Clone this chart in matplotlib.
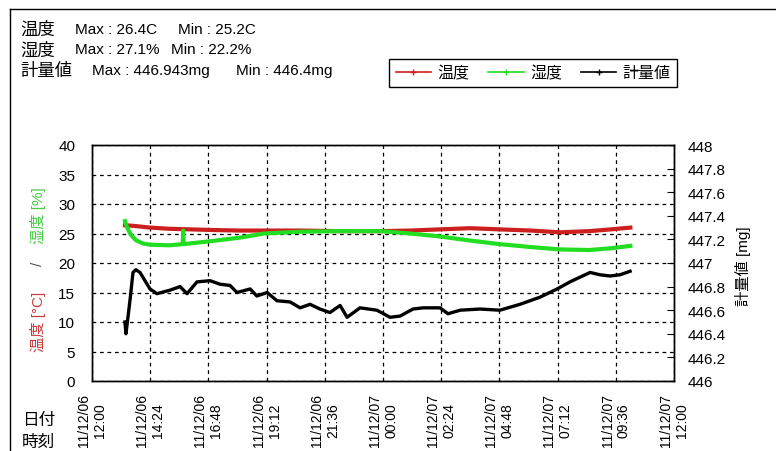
import matplotlib
matplotlib.use("Agg")
import matplotlib.pyplot as plt
from matplotlib.lines import Line2D
import numpy as np

plt.rcParams['font.family'] = ['Liberation Sans', 'Noto Sans CJK JP', 'DejaVu Sans']

# x軸: 11/12/06 12:00 からの経過時間 [h]
tick_labels = ["11/12/06\n12:00", "11/12/06\n14:24", "11/12/06\n16:48", "11/12/06\n19:12",
               "11/12/06\n21:36", "11/12/07\n00:00", "11/12/07\n02:24", "11/12/07\n04:48",
               "11/12/07\n07:12", "11/12/07\n09:36", "11/12/07\n12:00"]

# 温度 [C]
temp_h = [1.36, 1.7, 2.4, 3.2, 4.9, 6.1, 7.1, 8.6, 10.2, 11.9, 13.1, 14.35, 15.6,
          16.8, 18.1, 19.3, 20.5, 21.4, 22.2]
temp_v = [26.4, 26.3, 26.0, 25.8, 25.6, 25.5, 25.5, 25.5, 25.4, 25.4, 25.5, 25.7, 25.9,
          25.7, 25.5, 25.2, 25.4, 25.7, 26.0]

# 湿度 [%]
hum_h = [1.36, 1.45, 1.6, 1.8, 2.1, 2.4, 3.2, 3.74, 3.76, 3.78, 4.9, 6.1, 7.1, 8.6,
         10.2, 11.9, 13.1, 14.35, 15.6, 16.8, 18.1, 19.3, 20.5, 21.4, 22.2]
hum_v = [27.1, 26.0, 24.8, 23.9, 23.3, 23.1, 23.0, 23.2, 25.5, 23.2, 23.7, 24.3, 25.0, 25.3,
         25.4, 25.4, 25.0, 24.5, 23.8, 23.2, 22.7, 22.3, 22.2, 22.5, 22.9]

# 計量値 [mg]
wt_h = [1.36, 1.40, 1.57, 1.69, 1.81, 1.98, 2.39, 2.68, 3.22, 3.63, 3.92, 4.33, 4.87,
        5.28, 5.69, 5.98, 6.52, 6.80, 7.22, 7.63, 8.17, 8.58, 8.99, 9.40, 9.81, 10.23,
        10.52, 11.05, 11.75, 12.29, 12.70, 13.24, 13.65, 14.35, 14.68, 15.18, 16.0,
        16.82, 17.65, 18.47, 19.18, 19.71, 20.54, 20.95, 21.36, 21.77, 22.19]
wt_v = [446.50, 446.40, 446.69, 446.92, 446.943, 446.92, 446.78, 446.74, 446.77, 446.80,
        446.74, 446.84, 446.85, 446.82, 446.81, 446.75, 446.78, 446.72, 446.75, 446.68,
        446.67, 446.62, 446.65, 446.61, 446.58, 446.64, 446.54, 446.62, 446.60, 446.54,
        446.55, 446.61, 446.62, 446.62, 446.57, 446.60, 446.61, 446.60, 446.65, 446.71,
        446.78, 446.84, 446.92, 446.90, 446.89, 446.90, 446.93]

# 上部の統計
stat_names = ["温度", "湿度", "計量値"]
stat_max = ["Max : 26.4C", "Max : 27.1%", "Max : 446.943mg"]
stat_min = ["Min : 25.2C", "Min : 22.2%", "Min : 446.4mg"]

red = '#cc1f1f'
green = '#22dd22'

W, H = 776, 452
fig = plt.figure(figsize=(W / 100, H / 100), dpi=100)
ax = fig.add_axes([92 / W, 1 - 382 / H, 582 / W, 236 / H])

ax.plot(temp_h, temp_v, color=red, lw=3)
ax.plot(hum_h, hum_v, color=green, lw=3)
ax.set_xlim(0, 24)
ax.set_ylim(0, 40)
ax.set_xticks(np.arange(0, 24.01, 2.4))
ax.set_xticklabels(tick_labels, rotation=90, fontsize=10, multialignment='center')
ax.set_yticks(np.arange(0, 41, 5))
ax.tick_params(axis='x', length=0, pad=9)
ax.tick_params(axis='y', length=0, pad=12, labelsize=11)
ax.grid(True, color='black', linestyle=(0, (3, 3)), linewidth=0.9)

ax2 = ax.twinx()
ax2.plot(wt_h, wt_v, color='black', lw=2.4)
ax2.set_ylim(446, 448)
ax2.set_yticks(np.arange(446, 448.01, 0.2))
ax2.set_yticklabels(['%g' % round(v, 1) for v in np.arange(446, 448.01, 0.2)])
ax2.tick_params(axis='y', direction='in', length=5, pad=10, labelsize=11)

for a in (ax, ax2):
    for s in a.spines.values():
        s.set_color('black')
        s.set_linewidth(1)

# 凡例
handles = [Line2D([], [], color=red, lw=1.2, marker='+', ms=4),
           Line2D([], [], color=green, lw=1.2, marker='+', ms=4),
           Line2D([], [], color='black', lw=1.2, marker='+', ms=4)]
leg = fig.legend(handles, ['温度', '湿度', '計量値'], loc='upper right',
                 bbox_to_anchor=(677 / W, 1 - 60 / H), borderaxespad=0, ncol=3,
                 fontsize=11.5, frameon=True, fancybox=False, edgecolor='black',
                 framealpha=1, handlelength=2.2, handletextpad=0.4,
                 columnspacing=1.2, borderpad=0.4)
leg.get_frame().set_linewidth(1)

max_x = [75, 75, 92]
min_x = [178, 171, 236]
for i in range(3):
    y = 1 - (30 + 20.5 * i) / H
    fig.text(20 / W, y, stat_names[i], fontsize=12.5, va='center', ha='left')
    fig.text(max_x[i] / W, y, stat_max[i], fontsize=11, va='center', ha='left')
    fig.text(min_x[i] / W, y, stat_min[i], fontsize=11, va='center', ha='left')

# 軸ラベル
fig.text(38 / W, 1 - 322 / H, '温度 [°C]', color='#c83c3c', rotation=90,
         ha='center', va='center', fontsize=11)
fig.text(38 / W, 1 - 264 / H, '/', color='#555555', rotation=90,
         ha='center', va='center', fontsize=11)
fig.text(38 / W, 1 - 216 / H, '湿度 [%]', color='#44cc44', rotation=90,
         ha='center', va='center', fontsize=11)
fig.text(743 / W, 1 - 266 / H, '計量値 [mg]', rotation=90,
         ha='center', va='center', fontsize=11)

fig.text(22 / W, 1 - 420 / H, '日付', fontsize=12, va='center', ha='left')
fig.text(22 / W, 1 - 442 / H, '時刻', fontsize=12, va='center', ha='left')

# 外枠
fig.add_artist(Line2D([10 / W, 1], [1 - 10 / H, 1 - 10 / H], color='black', lw=1))
fig.add_artist(Line2D([10 / W, 10 / W], [0, 1 - 10 / H], color='black', lw=1))

fig.savefig('out.png', dpi=100)
